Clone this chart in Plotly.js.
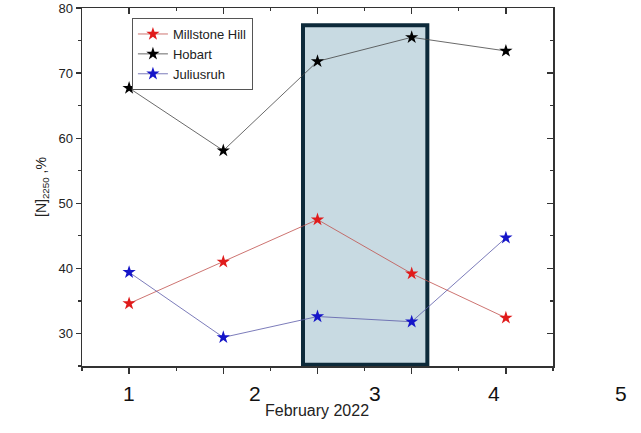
<!DOCTYPE html>
<html>
<head>
<meta charset="utf-8">
<script src="https://cdn.plot.ly/plotly-3.0.1.min.js"></script>
<style>html,body{margin:0;padding:0;background:#fff;}#chart{width:641px;height:433px;}</style>
</head>
<body>
<div id="chart"></div>
<script>
// Data
var days = [1, 2, 3, 4, 5];
var millstoneHill = [34.6, 41.0, 47.5, 39.2, 32.4];
var hobart = [67.7, 58.1, 71.8, 75.5, 73.4];
var juliusruh = [39.4, 29.4, 32.6, 31.8, 44.7];
var seriesNames = ['Millstone Hill', 'Hobart', 'Juliusruh'];
var dayLabels = ['1', '2', '3', '4', '5'];
var xTitle = 'February 2022';
var yTitle = '[N]<sub>2</sub><sub>250</sub> ,%';

// highlighted period (data coordinates)
var highlight = {x0: 2.846, x1: 4.166, y0: 25.2, y1: 77.35};
// positions of the large day labels along the x axis (x-axis data units)
var dayLabelX = [1.0, 2.34, 3.61, 4.87, 6.22];
var xRange = [0.5, 5.5];
var yRange = [25, 80];

function trace(y, name, lineColor, markerColor, xa, ya) {
  return {
    x: days, y: y, name: name, type: 'scatter', mode: 'lines+markers',
    xaxis: xa, yaxis: ya,
    line: {color: lineColor, width: 0.8},
    marker: {symbol: 'star', size: 10, color: markerColor, line: {width: 0}}
  };
}

var data = [
  trace(millstoneHill, seriesNames[0], '#c0504d', '#e01b1b', 'x', 'y'),
  trace(hobart, seriesNames[1], '#444444', '#000000', 'x', 'y'),
  trace(juliusruh, seriesNames[2], '#5a5aa8', '#1515c8', 'x2', 'y2')
];

var FONT = 'Arial, Liberation Sans, sans-serif';
var axisFont = {family: FONT, size: 13, color: '#222'};

function toPaperX(v) { return (v - xRange[0]) / (xRange[1] - xRange[0]); }

var annotations = dayLabels.map(function (t, i) {
  return {
    text: t, xref: 'paper', yref: 'paper', x: toPaperX(dayLabelX[i]), y: -0.078,
    xanchor: 'center', yanchor: 'middle', showarrow: false,
    font: {family: FONT, size: 21, color: '#111'}
  };
});
annotations.push({
  text: xTitle, xref: 'paper', yref: 'paper', x: 0.499, y: -0.125,
  xanchor: 'center', yanchor: 'middle', showarrow: false,
  font: {family: FONT, size: 16, color: '#222'}
});

var tickStyle = {tickwidth: 1.3, tickcolor: '#333', showline: true, linecolor: '#333', linewidth: 1.5,
  showgrid: false, zeroline: false};
function ax(extra) { return Object.assign({}, tickStyle, extra); }

var layout = {
  width: 641, height: 433,
  margin: {l: 82, r: 88, t: 8, b: 67, pad: 0},
  paper_bgcolor: '#fff', plot_bgcolor: 'rgba(0,0,0,0)',
  showlegend: true,
  legend: {
    x: 0.106, y: 0.972, xanchor: 'left', yanchor: 'top',
    bgcolor: '#fff', bordercolor: '#555', borderwidth: 1,
    font: {family: FONT, size: 13, color: '#222'},
    tracegroupgap: 0, itemwidth: 30
  },
  xaxis: ax({
    range: xRange, ticks: 'outside', ticklen: 6, tick0: 1, dtick: 1, showticklabels: false,
    minor: {dtick: 0.5, ticks: 'outside', ticklen: 3, tickwidth: 1.2, tickcolor: '#333', showgrid: false}
  }),
  xaxis2: ax({
    overlaying: 'x', side: 'top', anchor: 'y2',
    range: xRange, ticks: 'inside', ticklen: 6, tick0: 1, dtick: 1, showticklabels: false,
    minor: {dtick: 0.5, ticks: 'inside', ticklen: 3, tickwidth: 1.2, tickcolor: '#333', showgrid: false}
  }),
  yaxis: ax({
    range: yRange, ticks: 'outside', ticklen: 5, tick0: 30, dtick: 10, tickfont: axisFont,
    minor: {dtick: 5, ticks: 'outside', ticklen: 3, tickwidth: 1.2, tickcolor: '#333', showgrid: false},
    title: {text: yTitle, standoff: 8, font: {family: FONT, size: 14, color: '#222'}}
  }),
  yaxis2: ax({
    overlaying: 'y', side: 'right', anchor: 'x2',
    range: yRange, ticks: 'inside', ticklen: 6, tick0: 30, dtick: 10, showticklabels: false,
    minor: {dtick: 5, ticks: 'inside', ticklen: 3, tickwidth: 1.2, tickcolor: '#333', showgrid: false}
  }),
  shapes: [{
    type: 'rect', xref: 'x', yref: 'y', layer: 'below',
    x0: highlight.x0, x1: highlight.x1, y0: highlight.y0, y1: highlight.y1,
    fillcolor: '#c8dae2', line: {color: '#0d2a3a', width: 4}
  }],
  annotations: annotations
};

Plotly.newPlot('chart', data, layout, {staticPlot: true, displayModeBar: false});
</script>
</body>
</html>
